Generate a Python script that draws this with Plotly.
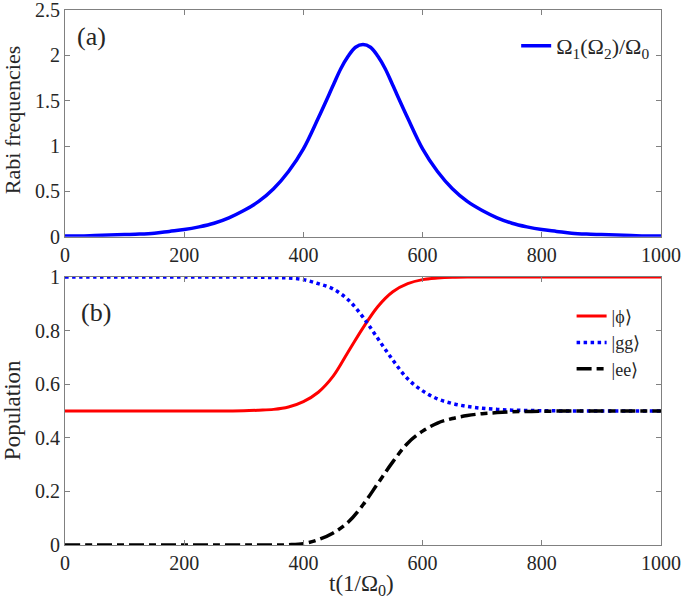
import plotly.graph_objects as go

# ---- data ----
t_rabi = [0, 25, 50, 75, 100, 125, 150, 175, 200, 225, 250, 275, 300, 325, 350, 375,
          400, 425, 450, 462.5, 475, 487.5, 500, 512.5, 525, 537.5, 550, 575, 600, 625, 650,
          675, 700, 725, 750, 775, 800, 825, 850, 875, 900, 925, 950, 975, 1000]
rabi = [0.01, 0.01, 0.015, 0.02, 0.025, 0.03, 0.04, 0.06, 0.08, 0.11, 0.15, 0.21, 0.29,
        0.39, 0.53, 0.72, 0.97, 1.31, 1.67, 1.85, 1.99, 2.09, 2.12, 2.09, 1.99, 1.85,
        1.67, 1.31, 0.97, 0.72, 0.53, 0.39, 0.29, 0.21, 0.15, 0.11, 0.08, 0.06, 0.04,
        0.03, 0.025, 0.02, 0.015, 0.01, 0.01]

t_pop = [0, 50, 100, 150, 200, 250, 300, 325, 350, 375, 400, 425, 450, 475, 500, 525,
         550, 575, 600, 625, 650, 675, 700, 725, 750, 775, 800, 850, 900, 950, 1000]
pop_phi = [0.5, 0.5, 0.5, 0.5, 0.5, 0.5, 0.501, 0.503, 0.506, 0.515, 0.535, 0.57, 0.63,
           0.72, 0.81, 0.89, 0.945, 0.975, 0.99, 0.996, 0.999, 1.0, 1.0, 1.0, 1.0, 1.0,
           1.0, 1.0, 1.0, 1.0, 1.0]
pop_gg = [1.0, 1.0, 1.0, 1.0, 1.0, 1.0, 1.0, 0.999, 0.998, 0.996, 0.99, 0.975, 0.955,
          0.915, 0.85, 0.77, 0.69, 0.62, 0.575, 0.545, 0.528, 0.517, 0.51, 0.506, 0.503,
          0.502, 0.501, 0.5, 0.5, 0.5, 0.5]
pop_ee = [0.0, 0.0, 0.0, 0.0, 0.0, 0.0, 0.0, 0.0, 0.0, 0.001, 0.005, 0.02, 0.045, 0.085,
          0.15, 0.23, 0.31, 0.38, 0.425, 0.455, 0.472, 0.483, 0.49, 0.494, 0.497, 0.498,
          0.499, 0.5, 0.5, 0.5, 0.5]

x_ticks = [0, 200, 400, 600, 800, 1000]
y1_ticks = [0, 0.5, 1, 1.5, 2, 2.5]
y1_labels = ["0", "0.5", "1", "1.5", "2", "2.5"]
y2_ticks = [0, 0.2, 0.4, 0.6, 0.8, 1]
y2_labels = ["0", "0.2", "0.4", "0.6", "0.8", "1"]

FONT = "Liberation Serif"
AX = "#808080"
TXT = "#262626"

fig = go.Figure()
fig.add_trace(go.Scatter(x=t_rabi, y=rabi, mode="lines", line=dict(color="#0000ff", width=3.5, shape="spline"),
                         name="Ω<sub>1</sub>(Ω<sub>2</sub>)/Ω<sub>0</sub>", xaxis="x", yaxis="y",
                         legend="legend", showlegend=True))
fig.add_trace(go.Scatter(x=t_pop, y=pop_phi, mode="lines", line=dict(color="#ff0000", width=3, shape="spline"),
                         name="|ϕ⟩", xaxis="x2", yaxis="y2", legend="legend2"))
fig.add_trace(go.Scatter(x=t_pop, y=pop_gg, mode="lines", line=dict(color="#0000ff", width=3.5, dash="dot", shape="spline"),
                         name="|gg⟩", xaxis="x2", yaxis="y2", legend="legend2"))
fig.add_trace(go.Scatter(x=t_pop, y=pop_ee, mode="lines", line=dict(color="#000000", width=3.5, dash="15px,5px,7px,5px", shape="spline"),
                         name="|ee⟩", xaxis="x2", yaxis="y2", legend="legend2"))

axis_common = dict(showline=True, linecolor=AX, linewidth=1, mirror="ticks", ticks="inside",
                   ticklen=5, tickcolor=AX, showgrid=False, zeroline=False, automargin=False,
                   ticklabeloverflow="allow",
                   tickfont=dict(family=FONT, size=20, color=TXT))

fig.update_layout(
    width=685, height=600,
    paper_bgcolor="white", plot_bgcolor="white",
    margin=dict(l=65, r=24, t=10, b=55),
    font=dict(family=FONT, size=16, color=TXT),
    showlegend=True,
    xaxis=dict(domain=[0, 1], anchor="y", range=[0, 1000], tickvals=x_ticks, **axis_common),
    yaxis=dict(domain=[0.576, 1], anchor="x", range=[0, 2.5], tickvals=y1_ticks, ticktext=y1_labels,
               **axis_common),
    xaxis2=dict(domain=[0, 1], anchor="y2", range=[0, 1000], tickvals=x_ticks, **axis_common),
    yaxis2=dict(domain=[0, 0.501], anchor="x2", range=[0, 1], tickvals=y2_ticks, ticktext=y2_labels,
                **axis_common),
    legend=dict(x=0.757, xanchor="left", y=0.972, yanchor="top", bgcolor="rgba(0,0,0,0)",
                font=dict(family=FONT, size=22, color=TXT), itemwidth=30, tracegroupgap=0),
    legend2=dict(x=0.85, xanchor="left", y=0.462, yanchor="top", bgcolor="rgba(0,0,0,0)",
                 font=dict(family=FONT, size=18, color=TXT), itemwidth=30, tracegroupgap=0),
    annotations=[
        dict(text="(a)", xref="paper", yref="paper", x=0.016, y=0.95, xanchor="left", yanchor="middle",
             showarrow=False, font=dict(family=FONT, size=26, color=TXT)),
        dict(text="(b)", xref="paper", yref="paper", x=0.024, y=0.4355, xanchor="left", yanchor="middle",
             showarrow=False, font=dict(family=FONT, size=26, color=TXT)),
        dict(text="t(1/Ω<sub>0</sub>)", xref="paper", yref="paper", x=0.497, y=-0.075, xanchor="center",
             yanchor="middle", showarrow=False, font=dict(family=FONT, size=23, color=TXT)),
        dict(text="Rabi frequencies", xref="paper", yref="paper", x=-0.089, y=0.794, xanchor="center",
             yanchor="middle", textangle=-90, showarrow=False, font=dict(family=FONT, size=22, color=TXT)),
        dict(text="Population", xref="paper", yref="paper", x=-0.089, y=0.252, xanchor="center",
             yanchor="middle", textangle=-90, showarrow=False, font=dict(family=FONT, size=23, color=TXT)),
    ],
)

fig.write_html("out.html", config={"displayModeBar": False},
               post_script="document.body.style.margin='0';")
